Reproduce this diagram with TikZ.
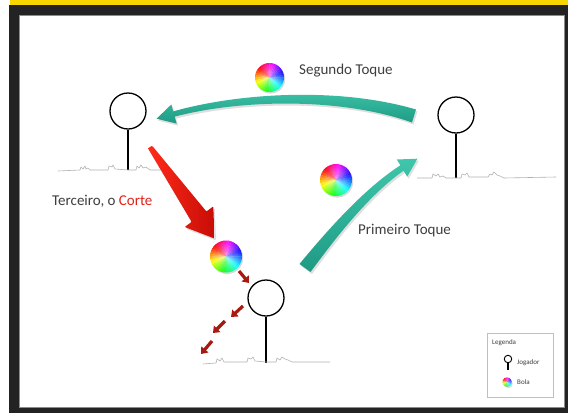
\documentclass[tikz,border=0pt]{standalone}
\usepackage{fontspec}
\setmainfont{Carlito}
\usetikzlibrary{arrows.meta,fadings,shadows}

\definecolor{frameDark}{HTML}{232323}
\definecolor{bandYellow}{HTML}{F8D600}
\definecolor{panelEdge}{HTML}{8C8C8C}
\definecolor{tealLight}{HTML}{3FC6AB}
\definecolor{tealDark}{HTML}{1F9A84}
\definecolor{redLight}{HTML}{FF2A1A}
\definecolor{redDark}{HTML}{C70D06}
\definecolor{minorRed}{HTML}{A8190F}
\definecolor{labelGray}{HTML}{3E3E3E}
\definecolor{corteRed}{HTML}{E3231B}
\definecolor{grassGray}{HTML}{B0B0B0}

\tikzfading[name=ballglow, inner color=transparent!45, outer color=transparent!100]

\tikzset{
  player/.style={circle, draw=black, line width=1.3pt, fill=white,
                 minimum size=36pt, inner sep=0pt},
  stick/.style={line width=2.3pt, black},
  grass/.style={grassGray, line width=0.6pt, line join=round},
  label/.style={font=\fontsize{15}{18}\selectfont, text=labelGray,
                inner sep=0pt, anchor=west},
  smalllabel/.style={font=\fontsize{7}{8}\selectfont, text=labelGray,
                inner sep=0pt, anchor=west},
  tealarrow/.style={top color=tealLight, bottom color=tealDark,
                drop shadow={opacity=0.25, shadow xshift=1.5pt, shadow yshift=-2pt}},
  redarrow/.style={left color=redLight, right color=redDark,
                drop shadow={opacity=0.25, shadow xshift=1.5pt, shadow yshift=-2pt}},
  minorarrow/.style={minorRed, line width=3.2pt,
                -{Triangle[width=9pt,length=6pt]}},
}

% multicoloured ball: #1 centre, #2 radius (pt)
\newcommand\rainbowball[2]{%
  \begin{scope}[shift={(#1)}]
    \fill[black, opacity=0.15] (1.2pt,-1.6pt) circle (#2pt);
    \foreach \a in {0,10,...,350}{
      \pgfmathsetmacro\hh{mod(\a+225,360)/360}
      \definecolor{wedgecol}{hsb}{\hh,0.95,1}
      \fill[wedgecol] (0,0) -- (\a:#2pt)
        arc[start angle=\a, delta angle=11, radius=#2pt] -- cycle;
    }
    \fill[white, path fading=ballglow] (0,0) circle (#2pt);
  \end{scope}}

\begin{document}
\begin{tikzpicture}[x=1pt, y=-1pt]
  \useasboundingbox (0,0) rectangle (568,413);
  \fill[white] (0,0) rectangle (568,413);

  % frame
  \fill[frameDark] (9,5) rectangle (568,413);
  \fill[bandYellow] (10,0) rectangle (568,5);
  \fill[white, draw=panelEdge, line width=0.8pt] (19.5,15.5) rectangle (564,407);

  % players
  \node[player] (p1) at (128,111) {};
  \node[player] (p2) at (456,115) {};
  \node[player] (p3) at (266,298) {};
  \coordinate (g1) at (128,170);
  \coordinate (g2) at (456,178);
  \coordinate (g3) at (266,363);
  \draw[stick] (p1.south) -- (g1);
  \draw[stick] (p2.south) -- (g2);
  \draw[stick] (p3.south) -- (g3);

  % ground lines
  \draw[grass] (58,171) -- (80,170) -- (81,167) -- (83,169) -- (85,166) -- (86,169)
    -- (88,168) -- (90,170) -- (108,170) -- (109,166) -- (112,167) -- (113,165)
    -- (115,169) -- (128,170) -- (136,170) -- (137,166) -- (139,168) -- (141,165)
    -- (143,168) -- (146,167) -- (150,170) -- (162,170);
  \draw[grass] (417,178) -- (432,178) -- (433,174) -- (436,176) -- (438,174)
    -- (440,177) -- (443,176) -- (446,178) -- (461,178) -- (462,174) -- (465,175)
    -- (467,173) -- (469,177) -- (488,177) -- (490,174) -- (492,175) -- (494,172)
    -- (497,175) -- (500,176) -- (504,178) -- (556,177);
  \draw[grass] (203,364) -- (216,363) -- (217,359) -- (220,361) -- (222,358)
    -- (224,362) -- (227,362) -- (247,362) -- (248,358) -- (251,359) -- (253,357)
    -- (255,361) -- (266,362) -- (276,362) -- (277,358) -- (280,360) -- (282,357)
    -- (285,359) -- (288,360) -- (292,362) -- (330,362);

  % passes
  \shade[tealarrow] (416,109.5) .. controls (340,87) and (240,92.5) .. (173.2,111.4)
    -- (171.4,104.4) -- (156.6,118.7) -- (176.6,123.6) -- (174.8,116.6)
    .. controls (240,99.5) and (340,97) .. (412,122.5) -- cycle;
  \shade[tealarrow] (299.5,264) .. controls (325.5,232.5) and (363.5,189) .. (400.4,165.3)
    -- (396.8,159.5) -- (417.4,158.7) -- (407.2,176.6) -- (403.6,170.7)
    .. controls (368.5,195) and (334.5,239.5) .. (310.5,272) -- cycle;
  \shade[redarrow, rounded corners=1pt] (152,145.6) -- (206.4,211.5) -- (213.3,206.4)
    -- (214.5,238.5) -- (184.6,227) -- (191.6,221.9) -- (148,148.4) -- cycle;

  % ball path after the attack
  \coordinate (m1a) at (239,271); \coordinate (m1b) at (249,283);
  \coordinate (m2a) at (243,306); \coordinate (m2b) at (231,317);
  \coordinate (m3a) at (225,321); \coordinate (m3b) at (213,333);
  \coordinate (m4a) at (212,341); \coordinate (m4b) at (201,354);
  \draw[minorarrow] (m1a) -- (m1b);
  \draw[minorarrow] (m2a) -- (m2b);
  \draw[minorarrow] (m3a) -- (m3b);
  \draw[minorarrow] (m4a) -- (m4b);

  % balls
  \coordinate (b1) at (269.5,77.5);
  \coordinate (b2) at (336,180);
  \coordinate (b3) at (226,256.5);
  \rainbowball{b1}{14.5}
  \rainbowball{b2}{16}
  \rainbowball{b3}{16}

  % labels
  \node[label] (t2) at (299,71) {Segundo Toque};
  \node[label] (t3) at (52,201) {Terceiro, o \textcolor{corteRed}{Corte}};
  \node[label] (t1) at (358,231) {Primeiro Toque};

  % legend
  \node[draw=black!25, fill=white, line width=0.6pt, minimum width=66pt,
        minimum height=64pt, inner sep=0pt,
        drop shadow={opacity=0.2, shadow xshift=1pt, shadow yshift=-1pt}]
        (legend) at (520,365) {};
  \node[smalllabel] (lt) at (492,343) {Legenda};
  \node[circle, draw=black, line width=0.9pt, minimum size=7.5pt, inner sep=0pt]
        (lp) at (508,359) {};
  \coordinate (lg) at (508,370);
  \draw[line width=1.3pt] (lp.south) -- (lg);
  \node[smalllabel] (lj) at (517,363) {Jogador};
  \coordinate (lb) at (507,382);
  \rainbowball{lb}{4.5}
  \node[smalllabel] (lbt) at (517,382) {Bola};
\end{tikzpicture}
\end{document}
